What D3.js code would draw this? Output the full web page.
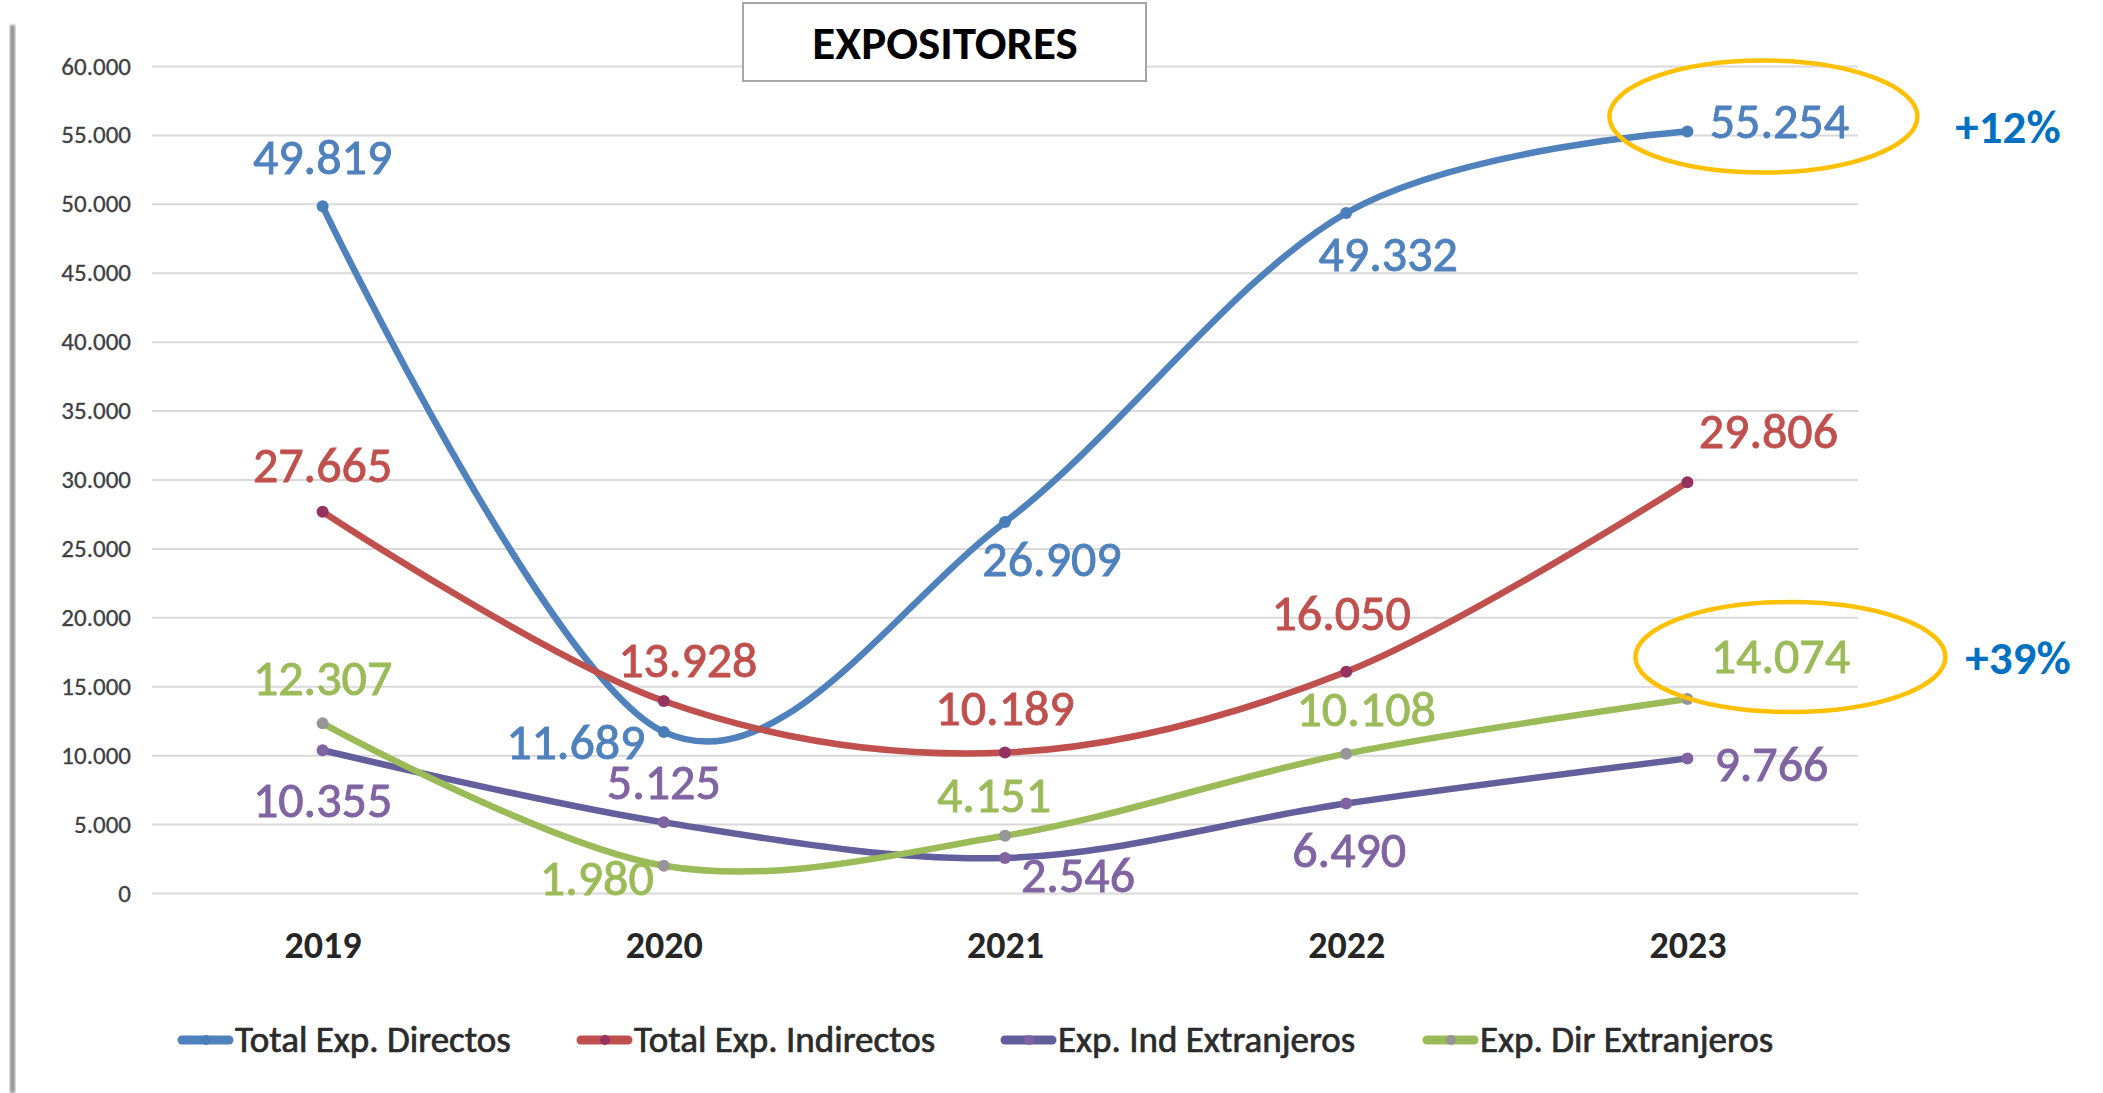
<!DOCTYPE html>
<html>
<head>
<meta charset="utf-8">
<script src="https://cdn.jsdelivr.net/npm/d3@7"></script>
<style>
  body { margin: 0; background: #fff; }
  text { font-family: Carlito, Calibri, Lato, sans-serif; }
</style>
</head>
<body>
<div id="chart"></div>
<script>
// data
var years = ["2019", "2020", "2021", "2022", "2023"];
var totalDirectos = [49819, 11689, 26909, 49332, 55254];
var totalIndirectos = [27665, 13928, 10189, 16050, 29806];
var indExtranjeros = [10355, 5125, 2546, 6490, 9766];
var dirExtranjeros = [12307, 1980, 4151, 10108, 14074];
var seriesNames = ["Total Exp. Directos", "Total Exp. Indirectos", "Exp. Ind Extranjeros", "Exp. Dir Extranjeros"];
var yTicks = [0, 5000, 10000, 15000, 20000, 25000, 30000, 35000, 40000, 45000, 50000, 55000, 60000];
var chartTitle = "EXPOSITORES";
var growthNotes = ["+12%", "+39%"];

// label offsets (dx, dy) from each point, per series
var labelOffsets = [
  [[0, -32], [-88, 27], [47, 54], [42, 58], [92, 7]],
  [[0, -30], [24, -24], [0, -28], [-5, -42], [81, -34]],
  [[0, 67], [0, -23], [73, 34], [3, 63], [84, 23]],
  [[0, -28], [-67, 29], [-11, -24], [20, -28], [93, -26]]
];

var lineColors = ["#4f81bd", "#c0504d", "#635e9c", "#9bbb59"];
var markerColors = ["#4a7ebb", "#943262", "#8064a2", "#969696"];
var labelColors = ["#4f81bd", "#c0504d", "#8064a2", "#9bbb59"];

var width = 2103, height = 1093;
var plotLeft = 152, plotRight = 1858, plotTop = 66, plotBottom = 893;

var svg = d3.select("#chart").append("svg")
  .attr("width", width)
  .attr("height", height);

// soft shadow on the left edge
var defs = svg.append("defs");
defs.append("filter").attr("id", "blur")
  .append("feGaussianBlur").attr("stdDeviation", 1.5);
svg.append("rect")
  .attr("x", 10).attr("y", 25).attr("width", 5).attr("height", height - 25)
  .attr("fill", "#8c8c8c")
  .attr("filter", "url(#blur)");

var loc = d3.formatLocale({ decimal: ",", thousands: ".", grouping: [3], currency: ["", ""] });
var fmt = loc.format(",d");

var x = d3.scalePoint().domain(years).range([plotLeft, plotRight]).padding(0.5);
var y = d3.scaleLinear().domain([0, 60000]).range([plotBottom, plotTop]);

// y axis + gridlines
var yAxis = svg.append("g")
  .attr("transform", "translate(" + plotLeft + ",0)")
  .call(d3.axisLeft(y).tickValues(yTicks).tickFormat(fmt).tickSize(-(plotRight - plotLeft)).tickPadding(21));
yAxis.select(".domain").remove();
yAxis.selectAll(".tick line").attr("stroke", "#d9d9d9").attr("stroke-width", 2);
yAxis.selectAll(".tick text").attr("font-size", 25).attr("fill", "#404040")
  .attr("stroke", "#404040").attr("stroke-width", 0.3);

// x axis labels
var xAxis = svg.append("g")
  .attr("transform", "translate(0," + plotBottom + ")")
  .call(d3.axisBottom(x).tickSize(0).tickPadding(38));
xAxis.select(".domain").remove();
xAxis.selectAll(".tick text")
  .attr("font-size", 38).attr("font-weight", "bold").attr("fill", "#262626");

// title box
svg.append("rect")
  .attr("x", 743).attr("y", 3).attr("width", 403).attr("height", 78)
  .attr("fill", "#fff").attr("stroke", "#a6a6a6").attr("stroke-width", 2);
svg.append("text")
  .attr("x", 945).attr("y", 59)
  .attr("text-anchor", "middle")
  .attr("font-size", 47).attr("font-weight", "bold").attr("fill", "#000")
  .text(chartTitle);

var allSeries = [totalDirectos, totalIndirectos, indExtranjeros, dirExtranjeros];

var line = d3.line()
  .x(function(d, i) { return x(years[i]); })
  .y(function(d) { return y(d); })
  .curve(d3.curveCardinal.tension(0));

allSeries.forEach(function(vals, s) {
  var g = svg.append("g");
  g.append("path")
    .attr("d", line(vals))
    .attr("fill", "none")
    .attr("stroke", lineColors[s])
    .attr("stroke-width", 6.5)
    .attr("stroke-linecap", "round");
  g.selectAll("circle")
    .data(vals)
    .enter()
    .append("circle")
      .attr("cx", function(d, i) { return x(years[i]); })
      .attr("cy", function(d) { return y(d); })
      .attr("r", 6)
      .attr("fill", markerColors[s]);
});

// data labels on top
allSeries.forEach(function(vals, s) {
  svg.append("g").selectAll("text")
    .data(vals)
    .enter()
    .append("text")
      .attr("x", function(d, i) { return x(years[i]) + labelOffsets[s][i][0]; })
      .attr("y", function(d, i) { return y(d) + labelOffsets[s][i][1]; })
      .attr("text-anchor", "middle")
      .attr("font-size", 50)
      .attr("fill", labelColors[s])
      .attr("stroke", labelColors[s]).attr("stroke-width", 0.9)
      .text(function(d) { return fmt(d); });
});

// highlight ellipses around 2023 values
var last = years[years.length - 1];
svg.append("ellipse")
  .attr("cx", x(last) + 76).attr("cy", y(totalDirectos[4]) - 15)
  .attr("rx", 154).attr("ry", 56)
  .attr("fill", "none").attr("stroke", "#ffc000").attr("stroke-width", 4.5);
svg.append("ellipse")
  .attr("cx", x(last) + 103).attr("cy", y(dirExtranjeros[4]) - 42)
  .attr("rx", 155).attr("ry", 55)
  .attr("fill", "none").attr("stroke", "#ffc000").attr("stroke-width", 4.5);

svg.append("text")
  .attr("x", 2008).attr("y", 143)
  .attr("text-anchor", "middle")
  .attr("font-size", 47).attr("font-weight", "bold").attr("fill", "#0070c0")
  .text(growthNotes[0]);
svg.append("text")
  .attr("x", 2018).attr("y", 674)
  .attr("text-anchor", "middle")
  .attr("font-size", 47).attr("font-weight", "bold").attr("fill", "#0070c0")
  .text(growthNotes[1]);

// legend
var legendX = [178, 577, 1001, 1423];
var legend = svg.append("g").attr("transform", "translate(0,1040)");
seriesNames.forEach(function(name, s) {
  var lg = legend.append("g").attr("transform", "translate(" + legendX[s] + ",0)");
  lg.append("line")
    .attr("x1", 4).attr("x2", 51).attr("y1", 0).attr("y2", 0)
    .attr("stroke", lineColors[s]).attr("stroke-width", 9).attr("stroke-linecap", "round");
  lg.append("circle").attr("cx", 28).attr("cy", 0).attr("r", 5).attr("fill", markerColors[s]);
  lg.append("text")
    .attr("x", 57).attr("y", 12)
    .attr("font-size", 37).attr("fill", "#2b2b2b")
    .attr("stroke", "#2b2b2b").attr("stroke-width", 0.7)
    .text(name);
});
</script>
</body>
</html>
